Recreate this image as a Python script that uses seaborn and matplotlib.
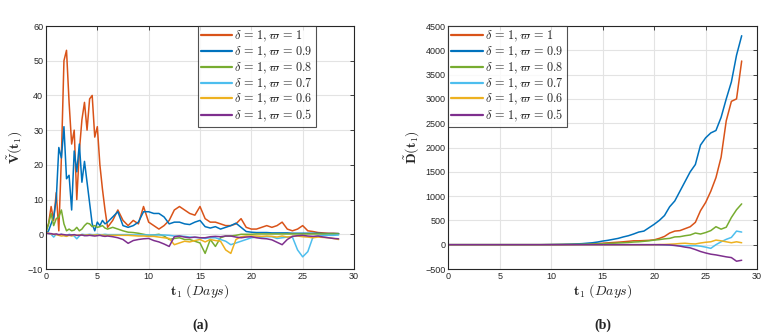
import numpy as np
import pandas as pd
import matplotlib
matplotlib.use("Agg")
import matplotlib.pyplot as plt
import seaborn as sns

# ---------------- data ----------------
labels = [r"$\delta\,=\,1,\varpi\,=\,1$", r"$\delta\,=\,1,\varpi\,=\,0.9$",
          r"$\delta\,=\,1,\varpi\,=\,0.8$", r"$\delta\,=\,1,\varpi\,=\,0.7$",
          r"$\delta\,=\,1,\varpi\,=\,0.6$", r"$\delta\,=\,1,\varpi\,=\,0.5$"]
colors = ["#D95319", "#0072BD", "#77AC30", "#4DBEEE", "#EDB120", "#7E2F8E"]

# panel (a) sample times (days)
t_a = [0, 0.25, 0.5, 0.75, 1.0, 1.25, 1.5, 1.75, 2.0, 2.25, 2.5, 2.75, 3.0, 3.25, 3.5, 3.75,
       4.0, 4.25, 4.5, 4.75, 5.0, 5.25, 5.5, 5.75, 6.0,
       6.5, 7.0, 7.5, 8.0, 8.5, 9.0, 9.5, 10.0, 10.5, 11.0, 11.5, 12.0, 12.5, 13.0, 13.5,
       14.0, 14.5, 15.0, 15.5, 16.0, 16.5, 17.0, 17.5, 18.0, 18.5, 19.0, 19.5, 20.0, 20.5,
       21.0, 21.5, 22.0, 22.5, 23.0, 23.5, 24.0, 24.5, 25.0, 25.5, 26.0, 26.5, 27.0, 27.5,
       28.0, 28.5]

V_w10 = [1, 3, 8, 4, 12, 1, 22, 50, 53, 38, 26, 30, 10, 24, 33, 38,
         30, 39, 40, 28, 31, 20, 13, 7, 2,
         4, 7, 4, 2.5, 4, 3, 8, 3.5, 2.5, 1.5, 2.5, 4, 7, 8, 7,
         6, 5.5, 8, 4.5, 3.5, 3.5, 3, 2.5, 2.5, 3, 4.5, 2, 1.5, 1.5,
         2, 2.5, 2, 2.5, 3.5, 1.5, 1, 1.5, 2.5, 1, 0.8, 0.5, 0.4, 0.3,
         0.3, 0.2]
V_w09 = [0, 1, 3, 5, 10, 25, 22, 31, 16, 17, 7, 24, 18, 26, 15, 21,
         15, 9, 3, 1, 3.5, 2.5, 4, 3, 3.5,
         5, 6.5, 2.5, 2, 2.5, 3.5, 6.5, 6.5, 6, 6, 5, 3, 3.5, 3.5, 3,
         2.8, 3.5, 4, 2.2, 1.8, 2.2, 1.5, 2, 2.5, 3.2, 2, 0.8, 0.6, 0.5,
         0.5, 0.5, 0.4, 0.4, 0.4, 0.4, 0.3, 0.3, 0.3, 0.3, 0.3, 0.3, 0.2, 0.2,
         0.2, 0.2]
V_w08 = [0.5, 3, 6, 2.5, 4.5, 5, 7, 3, 1, 1.5, 1, 1.2, 2, 1, 1.5, 2.5,
         3.2, 3, 2.2, 2.5, 2, 2.2, 2.5, 1.8, 1.5,
         2, 1.5, 1, 0.6, 0.5, 0.3, 0, -0.3, -0.2, 0, -0.5, -1.5, -1.2, -1, -1.5,
         -1.5, -2, -2.5, -5.5, -1.5, -3.5, -1, -0.5, -0.5, -0.3, 0, 0, 0, 0.1,
         0.1, 0.1, 0.1, 0.1, 0.1, 0.1, 0.1, 0.1, 0.1, 0.1, 0.1, 0.1, 0.1, 0.1,
         0.1, 0.1]
V_w07 = [0.5, 0.3, 0, -0.8, 0, -0.2, 0, -0.3, -0.5, 0, -0.2, -0.5, -1.3, -0.5, 0, -0.1,
         -0.1, 0, -0.1, -0.1, 0, -0.1, -0.1, 0, -0.1,
         -0.1, -0.1, -0.1, -0.1, -0.2, -0.2, -0.2, -0.2, -0.2, -0.2, -0.2, -0.3, -0.5, -0.5, -0.6,
         -0.8, -0.9, -1, -1.2, -1, -1, -1.5, -2, -3, -2.5, -2, -1.5, -1, -0.8,
         -0.8, -0.7, -0.7, -1.2, -1, -0.8, -0.8, -4.5, -6.5, -5, -0.8, -0.5, -0.4, -0.3,
         -0.3, -0.2]
V_w06 = [0.5, 0.3, 0.1, 0, -0.1, -0.3, -0.5, -0.4, -0.6, -0.3, -0.5, -0.2, -0.3, -0.2, -0.2, -0.3,
         -0.2, -0.2, -0.3, -0.2, -0.2, -0.3, -0.2, -0.3, -0.3,
         -0.3, -0.3, -0.3, -0.3, -0.4, -0.5, -0.5, -0.6, -0.6, -0.8, -1, -1.2, -3, -2.5, -2,
         -2.2, -1.8, -1.5, -2.2, -1.5, -1.8, -2, -4.5, -5.5, -1.5, -0.7, -0.5, -0.5, -0.5,
         -0.6, -0.5, -0.6, -0.8, -0.5, -0.8, -0.6, -0.5, -0.7, -0.8, -1, -0.8, -0.9, -1,
         -1.2, -1.5]
V_w05 = [0.3, 0.2, 0.2, 0, 0.1, -0.1, 0, -0.1, -0.2, -0.2, -0.2, -0.1, -0.3, -0.3, -0.2, -0.4,
         -0.4, -0.3, -0.4, -0.5, -0.4, -0.3, -0.5, -0.6, -0.5,
         -0.7, -1, -1.5, -2.6, -1.8, -1.5, -1.3, -1.2, -1.8, -2.2, -2.8, -3.5, -0.7, -0.5, -0.8,
         -1, -0.8, -1, -1, -0.7, -0.6, -0.7, -0.5, -0.5, -0.8, -1, -0.8, -0.7, -1,
         -1.2, -1.3, -1.6, -2.3, -3, -1.5, -0.6, -0.4, -0.3, -0.5, -0.6, -0.5, -0.8, -1,
         -1.2, -1.3]

# panel (b) sample times (days)
t_b = [0, 1, 2, 3, 4, 5, 6, 7, 8, 9, 10, 11, 12, 13, 14,
       14.5, 15, 15.5, 16, 16.5, 17, 17.5, 18, 18.5, 19, 19.5, 20, 20.5, 21, 21.5,
       22, 22.5, 23, 23.5, 24, 24.5, 25, 25.5, 26, 26.5, 27, 27.5, 28, 28.5]

D_w10 = [0, 0, 0, 0, 0, 0, 0, 0, 0, 0, 2, 4, 7, 12, 20,
         25, 30, 38, 45, 52, 60, 70, 80, 80, 85, 90, 100, 130, 170, 240,
         280, 290, 330, 370, 460, 700, 870, 1100, 1380, 1800, 2550, 2950, 3000, 3780]
D_w09 = [0, 0, 0, 0, 0, 0, 0, 0, 0, 0, 3, 6, 12, 22, 40,
         55, 75, 90, 110, 130, 160, 185, 220, 260, 280, 350, 420, 500, 600, 780,
         900, 1100, 1300, 1500, 1650, 2050, 2200, 2300, 2350, 2620, 3000, 3350, 3900, 4300]
D_w08 = [0, 0, 0, 0, 0, 0, 0, 0, 0, 0, 1, 3, 5, 8, 12,
         15, 20, 25, 30, 35, 40, 45, 55, 60, 70, 80, 95, 105, 120, 130,
         160, 165, 185, 200, 240, 220, 250, 290, 370, 320, 360, 560, 720, 840]
D_w07 = [0, 0, 0, 0, 0, 0, 0, 0, 0, 0, 0, 0, 0, 0, 0,
         0, 0, 0, 0, 0, 0, 0, 0, 0, 0, 0, 0, -3, -5, -10,
         -15, -20, -25, -20, -20, -30, -50, -75, 0, 60, 110, 150, 280, 260]
D_w06 = [0, 0, 0, 0, 0, 0, 0, 0, 0, 0, 0, 0, 0, 0, 0,
         0, 0, 0, 0, 0, 0, 0, 0, 0, 0, 0, 0, 3, 5, 10,
         15, 25, 30, 20, 15, 35, 50, 60, 95, 80, 60, 40, 60, 40]
D_w05 = [0, 0, 0, 0, 0, 0, 0, 0, 0, 0, 0, 0, 0, 0, 0,
         0, 0, 0, 0, 0, 0, 0, 0, 0, 0, 0, 0, 0, -2, -5,
         -15, -30, -50, -65, -100, -140, -170, -195, -210, -230, -250, -265, -340, -320]

series_a = [V_w10, V_w09, V_w08, V_w07, V_w06, V_w05]
series_b = [D_w10, D_w09, D_w08, D_w07, D_w06, D_w05]

# ---------------- style ----------------
sns.set_style("whitegrid")
plt.rcParams["font.family"] = ["Liberation Sans", "DejaVu Sans"]
plt.rcParams["mathtext.fontset"] = "cm"

fig = plt.figure(figsize=(7.74, 3.36), dpi=100)
ax1 = fig.add_axes([0.0594, 0.1994, 0.398, 0.7232])
ax2 = fig.add_axes([0.5792, 0.1994, 0.399, 0.7232])


def draw(ax, t, series, ylim, yticks, ylabel, anchor, loc):
    for vals, lab, col in zip(series, labels, colors):
        df = pd.DataFrame({"t": t, "v": vals})
        sns.lineplot(data=df, x="t", y="v", ax=ax, color=col, lw=1.1, label=lab,
                     sort=False, estimator=None)
    ax.set_xlim(0, 30)
    ax.set_ylim(*ylim)
    ax.set_xticks([0, 5, 10, 15, 20, 25, 30])
    ax.set_yticks(yticks)
    ax.grid(True, color="#e3e3e3", lw=0.8)
    for s in ax.spines.values():
        s.set_visible(True)
        s.set_color("#262626")
        s.set_linewidth(0.8)
    ax.tick_params(axis="both", direction="in", length=3, labelsize=6.5,
                   colors="#262626", top=True, right=True, width=0.6, pad=2)
    ax.set_xlabel(r"$\mathbf{t}_1\ (\mathit{Days})$", fontsize=10, labelpad=1)
    ax.set_ylabel(ylabel, fontsize=10, labelpad=2)
    leg = ax.legend(loc=loc, bbox_to_anchor=anchor, fontsize=8.8, frameon=True,
                    fancybox=False, borderaxespad=0, handlelength=2.6,
                    handletextpad=0.15, labelspacing=0.04, borderpad=0.25)
    leg.get_frame().set_edgecolor("#262626")
    leg.get_frame().set_linewidth(0.8)
    for h in leg.get_lines():
        h.set_linewidth(1.6)


draw(ax1, t_a, series_a, (-10, 60), [-10, 0, 10, 20, 30, 40, 50, 60],
     r"$\tilde{\mathbf{V}}(\mathbf{t}_1)$", (0.877, 1.0), "upper right")
draw(ax2, t_b, series_b, (-500, 4500), list(range(-500, 4501, 500)),
     r"$\tilde{\mathbf{D}}(\mathbf{t}_1)$", (0.0, 1.0), "upper left")

fig.text(0.2585, 0.033, "(a)", ha="center", va="center", fontsize=10, fontweight="bold",
         family="Liberation Serif")
fig.text(0.779, 0.033, "(b)", ha="center", va="center", fontsize=10, fontweight="bold",
         family="Liberation Serif")

fig.savefig("out.png", dpi=100)
